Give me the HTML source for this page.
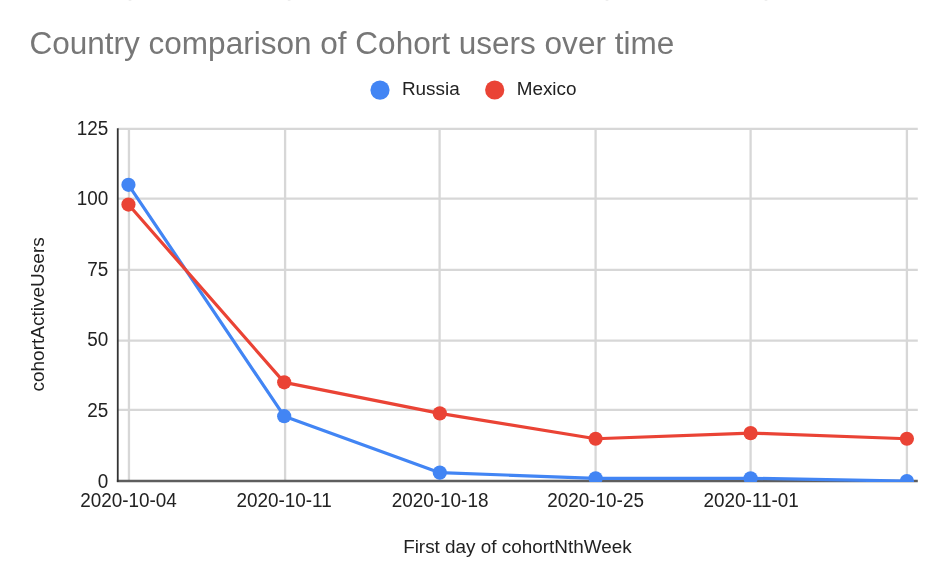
<!DOCTYPE html>
<html><head><meta charset="utf-8"><title>Country comparison of Cohort users over time</title>
<style>
html,body{margin:0;padding:0;background:#fff;}
body{width:945px;height:584px;overflow:hidden;}
svg{display:block;font-family:"Liberation Sans",Arial,sans-serif;filter:blur(0.5px);}
</style></head>
<body>
<svg width="945" height="584" viewBox="0 0 945 584">
<defs><clipPath id="plot"><rect x="117.76" y="100" width="827.24" height="382.10"/></clipPath></defs>
<rect width="945" height="584" fill="#ffffff"/>
<g fill="#eeeeee"><rect x="128.7" y="0" width="2.6" height="1"/><rect x="287.8" y="0" width="2.6" height="1"/><rect x="605.7" y="0" width="2.6" height="1"/><rect x="764.7" y="0" width="2.6" height="1"/></g>
<text transform="translate(29.4 54.35) scale(1 1.015)" font-size="31.55" fill="#777777">Country comparison of Cohort users over time</text>
<g font-size="18.9" fill="#222222">
<circle cx="380.0" cy="90.1" r="9.6" fill="#4285f4"/>
<text x="401.9" y="95.3">Russia</text>
<circle cx="494.7" cy="90.0" r="9.6" fill="#ea4335"/>
<text x="516.7" y="95.3">Mexico</text>
</g>
<g stroke="#d7d7d7" stroke-width="2.3" fill="none">
<line x1="117.76" y1="128.97" x2="917.80" y2="128.97"/>
<line x1="117.76" y1="198.60" x2="917.80" y2="198.60"/>
<line x1="117.76" y1="269.80" x2="917.80" y2="269.80"/>
<line x1="117.76" y1="340.70" x2="917.80" y2="340.70"/>
<line x1="117.76" y1="409.90" x2="917.80" y2="409.90"/>
<line x1="128.96" y1="128.97" x2="128.96" y2="481.10"/>
<line x1="285.10" y1="128.97" x2="285.10" y2="481.10"/>
<line x1="439.60" y1="128.97" x2="439.60" y2="481.10"/>
<line x1="595.60" y1="128.97" x2="595.60" y2="481.10"/>
<line x1="750.60" y1="128.97" x2="750.60" y2="481.10"/>
<line x1="906.90" y1="128.97" x2="906.90" y2="481.10"/>
</g>
<line x1="116.86" y1="481.10" x2="917.80" y2="481.10" stroke="#5e5e5e" stroke-width="2.5"/>
<g clip-path="url(#plot)">
<polyline points="128.45,184.79 284.20,416.19 439.80,472.63 595.60,478.28 750.60,478.28 906.90,481.10" fill="none" stroke="#4285f4" stroke-width="3.2" stroke-linejoin="round"/>
<polyline points="128.45,204.54 284.20,382.33 439.80,413.37 595.60,438.77 750.60,433.13 906.90,438.77" fill="none" stroke="#ea4335" stroke-width="3.2" stroke-linejoin="round"/>
<circle cx="128.45" cy="184.79" r="7.1" fill="#4285f4"/>
<circle cx="284.20" cy="416.19" r="7.1" fill="#4285f4"/>
<circle cx="439.80" cy="472.63" r="7.1" fill="#4285f4"/>
<circle cx="595.60" cy="478.28" r="7.1" fill="#4285f4"/>
<circle cx="750.60" cy="478.28" r="7.1" fill="#4285f4"/>
<circle cx="906.90" cy="481.10" r="7.1" fill="#4285f4"/>
<circle cx="128.45" cy="204.54" r="7.1" fill="#ea4335"/>
<circle cx="284.20" cy="382.33" r="7.1" fill="#ea4335"/>
<circle cx="439.80" cy="413.37" r="7.1" fill="#ea4335"/>
<circle cx="595.60" cy="438.77" r="7.1" fill="#ea4335"/>
<circle cx="750.60" cy="433.13" r="7.1" fill="#ea4335"/>
<circle cx="906.90" cy="438.77" r="7.1" fill="#ea4335"/>
</g>
<line x1="117.76" y1="128.17" x2="117.76" y2="481.90" stroke="#333333" stroke-width="1.8"/>
<g font-size="18.9" fill="#222222">
<text transform="translate(108.3 135.19) scale(1 1.07)" text-anchor="end">125</text>
<text transform="translate(108.3 205.24) scale(1 1.07)" text-anchor="end">100</text>
<text transform="translate(108.3 276.24) scale(1 1.07)" text-anchor="end">75</text>
<text transform="translate(108.3 346.49) scale(1 1.07)" text-anchor="end">50</text>
<text transform="translate(108.3 416.59) scale(1 1.07)" text-anchor="end">25</text>
<text transform="translate(108.3 487.84) scale(1 1.07)" text-anchor="end">0</text>
<text transform="translate(128.51 506.8) scale(1 1.04)" text-anchor="middle">2020-10-04</text>
<text transform="translate(284.10 506.8) scale(1 1.04)" text-anchor="middle">2020-10-11</text>
<text transform="translate(440.10 506.8) scale(1 1.04)" text-anchor="middle">2020-10-18</text>
<text transform="translate(595.60 506.8) scale(1 1.04)" text-anchor="middle">2020-10-25</text>
<text transform="translate(751.20 506.8) scale(1 1.04)" text-anchor="middle">2020-11-01</text>
<text x="517.4" y="553.1" text-anchor="middle">First day of cohortNthWeek</text>
<text transform="translate(43.6 314.4) rotate(-90)" text-anchor="middle" font-size="19.05">cohortActiveUsers</text>
</g>
</svg>
</body></html>
